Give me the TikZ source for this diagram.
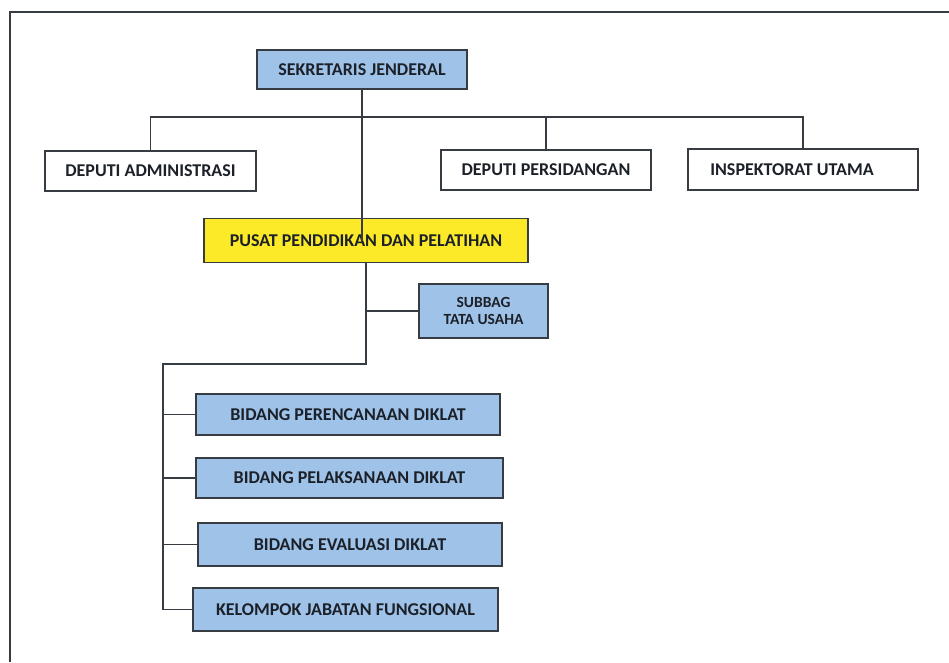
\documentclass[tikz,border=0pt]{standalone}
\usepackage{fontspec}
\setmainfont{Carlito}
\definecolor{boxblue}{RGB}{158,194,232}
\definecolor{boxyellow}{RGB}{252,234,40}
\definecolor{linegray}{RGB}{55,60,66}
\definecolor{txt}{RGB}{28,32,40}
\begin{document}
\begin{tikzpicture}[x=1pt,y=-1pt,
  box/.style={draw=linegray, line width=1.9pt, inner sep=0pt, text=txt,
    font=\bfseries\fontsize{18}{20}\selectfont, align=center},
  bluebox/.style={box, fill=boxblue},
  whitebox/.style={box, fill=white},
  conn/.style={draw=linegray, line width=1.8pt}]
\useasboundingbox (0,0) rectangle (949,662);
% frame
\draw[linegray, line width=1.5pt] (10,662) -- (10,12) -- (949,12);
% nodes
\node[bluebox, minimum width=210pt, minimum height=39pt] (sj) at (362,69.5) {SEKRETARIS JENDERAL};
\node[whitebox, minimum width=211pt, minimum height=40pt] (da) at (150.5,171) {DEPUTI ADMINISTRASI};
\node[whitebox, minimum width=210pt, minimum height=40pt] (dp) at (546,170) {DEPUTI PERSIDANGAN};
\node[whitebox, minimum width=230pt, minimum height=41pt] (ip) at (803,169.5) {INSPEKTORAT UTAMA\hspace*{22pt}};
\node[box, fill=boxyellow, minimum width=324pt, minimum height=44pt] (pu) at (366,240.5) {PUSAT PENDIDIKAN DAN PELATIHAN};
\node[bluebox, minimum width=129pt, minimum height=54pt, font=\bfseries\fontsize{15.5}{17}\selectfont] (sb) at (483.5,311) {SUBBAG\\TATA USAHA};
\node[bluebox, minimum width=304pt, minimum height=41pt] (b1) at (348,414.5) {BIDANG PERENCANAAN DIKLAT};
\node[bluebox, minimum width=307pt, minimum height=40pt] (b2) at (349.5,478) {BIDANG PELAKSANAAN DIKLAT};
\node[bluebox, minimum width=304pt, minimum height=43pt] (b3) at (350,544.5) {BIDANG EVALUASI DIKLAT};
\node[bluebox, minimum width=305pt, minimum height=43pt] (b4) at (345.5,609.5) {KELOMPOK JABATAN FUNGSIONAL};
% coordinates
\coordinate (busy) at (0,117);
\coordinate (lj) at (163,364);
% connectors
\draw[conn] (da.north) |- (ip.north |- busy) -- (ip.north);
\draw[conn] (dp.north) -- (dp.north |- busy);
\draw[conn] (sj.south) -- (sj.south |- pu.center);
\draw[conn] (pu.south) |- (lj) -- (lj |- b4.west);
\draw[conn] (sb.west) -- (sb.west -| pu.south);
\draw[conn] (b1.west) -- (b1.west -| lj);
\draw[conn] (b2.west) -- (b2.west -| lj);
\draw[conn] (b3.west) -- (b3.west -| lj);
\draw[conn] (b4.west) -- (b4.west -| lj);
\end{tikzpicture}
\end{document}
